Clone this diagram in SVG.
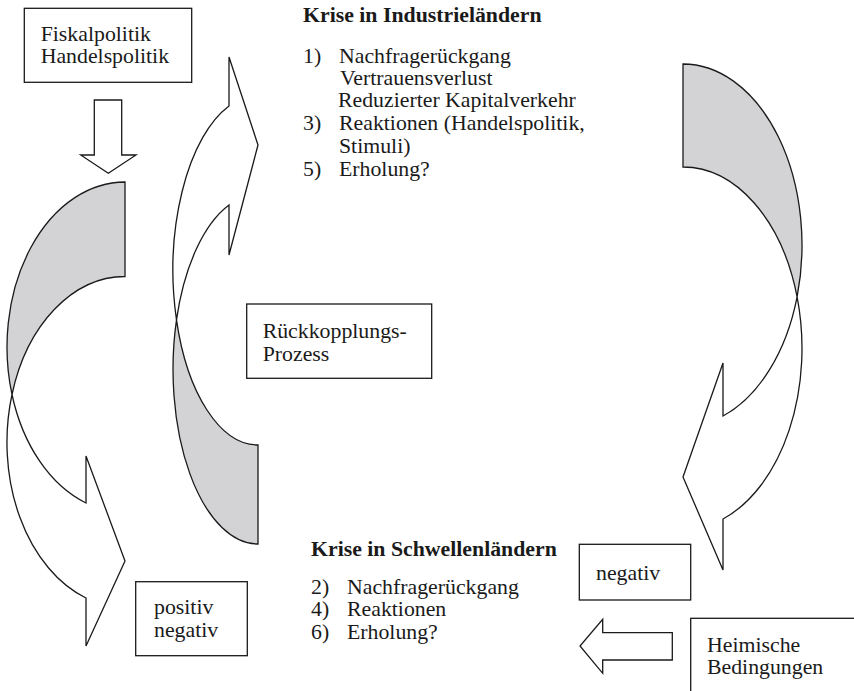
<svg xmlns="http://www.w3.org/2000/svg" width="854" height="691" viewBox="0 0 854 691">
<style>
.t{font-family:"Liberation Serif","Times New Roman",serif;font-size:21.8px;fill:#1a1a1a}
.b{font-weight:bold}
.box{fill:#fff;stroke:#1a1a1a;stroke-width:1.3}
.sh{fill:#d3d3d5;stroke:#1a1a1a;stroke-width:1.3;stroke-linejoin:miter}
.fr{fill:#fff;stroke:#1a1a1a;stroke-width:1.3;stroke-linejoin:miter}
</style>
<rect width="854" height="691" fill="#fff"/>
<g id="connectors">
  <g id="arrow-left-curve">
    <path class="sh" d="M125,182 L125,276.5 A118,165 0 0,0 12,394.5 A118,165 0 0,1 125,182 Z"/>
    <path class="fr" d="M12,394.5 A118,165 0 0,0 86,503 L86,456 L125,561 L86,646 L86,598 A118,165 0 0,1 12,394.5 Z"/>
  </g>
  <g id="arrow-middle-curve">
    <path class="sh" d="M258,544 L258,445 A85,174.7 0 0,1 176.5,319.8 A85,174.7 0 0,0 258,544 Z"/>
    <path class="fr" d="M176.5,319.8 A85,174.7 0 0,1 229,205 L229,255 L258,145 L229,57 L229,106 A85,174.7 0 0,0 176.5,319.8 Z"/>
  </g>
  <g id="arrow-right-curve">
    <path class="sh" d="M683,64 L683,167 A119,181.3 0 0,1 797.1,296.8 A119,181.3 0 0,0 683,64 Z"/>
    <path class="fr" d="M797.1,296.8 A119,181.3 0 0,1 723,416 L723,363 L683,477 L723,570 L723,519 A119,181.3 0 0,0 797.1,296.8 Z"/>
  </g>
  <path id="arrow-down" class="fr" d="M94.3,100 L121.7,100 L121.7,155 L136,155 L108.3,173.3 L80.7,155 L94.3,155 Z"/>
  <path id="arrow-left" class="fr" d="M672.3,632.7 L672.3,660 L602.7,660 L602.7,673.3 L580,646 L602.7,619.3 L602.7,632.7 Z"/>
</g>
<g id="node-fiskal">
  <rect class="box" x="24.3" y="8.3" width="167.4" height="74"/>
  <text class="t" x="40.7" y="40.7">Fiskalpolitik</text>
  <text class="t" x="40.7" y="63.3">Handelspolitik</text>
</g>
<g id="node-industrie">
  <text class="t b" x="303" y="22">Krise in Industrieländern</text>
  <text class="t" x="303" y="63">1)</text>
  <text class="t" x="339" y="63">Nachfragerückgang</text>
  <text class="t" x="340" y="85">Vertrauensverlust</text>
  <text class="t" x="338" y="107">Reduzierter Kapitalverkehr</text>
  <text class="t" x="303" y="130">3)</text>
  <text class="t" x="339" y="130">Reaktionen (Handelspolitik,</text>
  <text class="t" x="339" y="153">Stimuli)</text>
  <text class="t" x="303" y="176">5)</text>
  <text class="t" x="339" y="176">Erholung?</text>
</g>
<g id="node-rueck">
  <rect class="box" x="246.7" y="304" width="185" height="74.3"/>
  <text class="t" x="262.7" y="338">Rückkopplungs-</text>
  <text class="t" x="262.7" y="361">Prozess</text>
</g>
<g id="node-schwellen">
  <text class="t b" x="311" y="556">Krise in Schwellenländern</text>
  <text class="t" x="311" y="594">2)</text>
  <text class="t" x="347" y="594">Nachfragerückgang</text>
  <text class="t" x="311" y="616">4)</text>
  <text class="t" x="347" y="616">Reaktionen</text>
  <text class="t" x="311" y="639">6)</text>
  <text class="t" x="347" y="639">Erholung?</text>
</g>
<g id="node-posneg">
  <rect class="box" x="135.7" y="581.7" width="111.6" height="74"/>
  <text class="t" x="154" y="614">positiv</text>
  <text class="t" x="154" y="637">negativ</text>
</g>
<g id="node-negativ">
  <rect class="box" x="579.3" y="544.3" width="111.4" height="55.7"/>
  <text class="t" x="596" y="580">negativ</text>
</g>
<g id="node-heimisch">
  <rect class="box" x="690.7" y="618.3" width="200" height="100"/>
  <text class="t" x="707" y="652">Heimische</text>
  <text class="t" x="707" y="674">Bedingungen</text>
</g>
</svg>
